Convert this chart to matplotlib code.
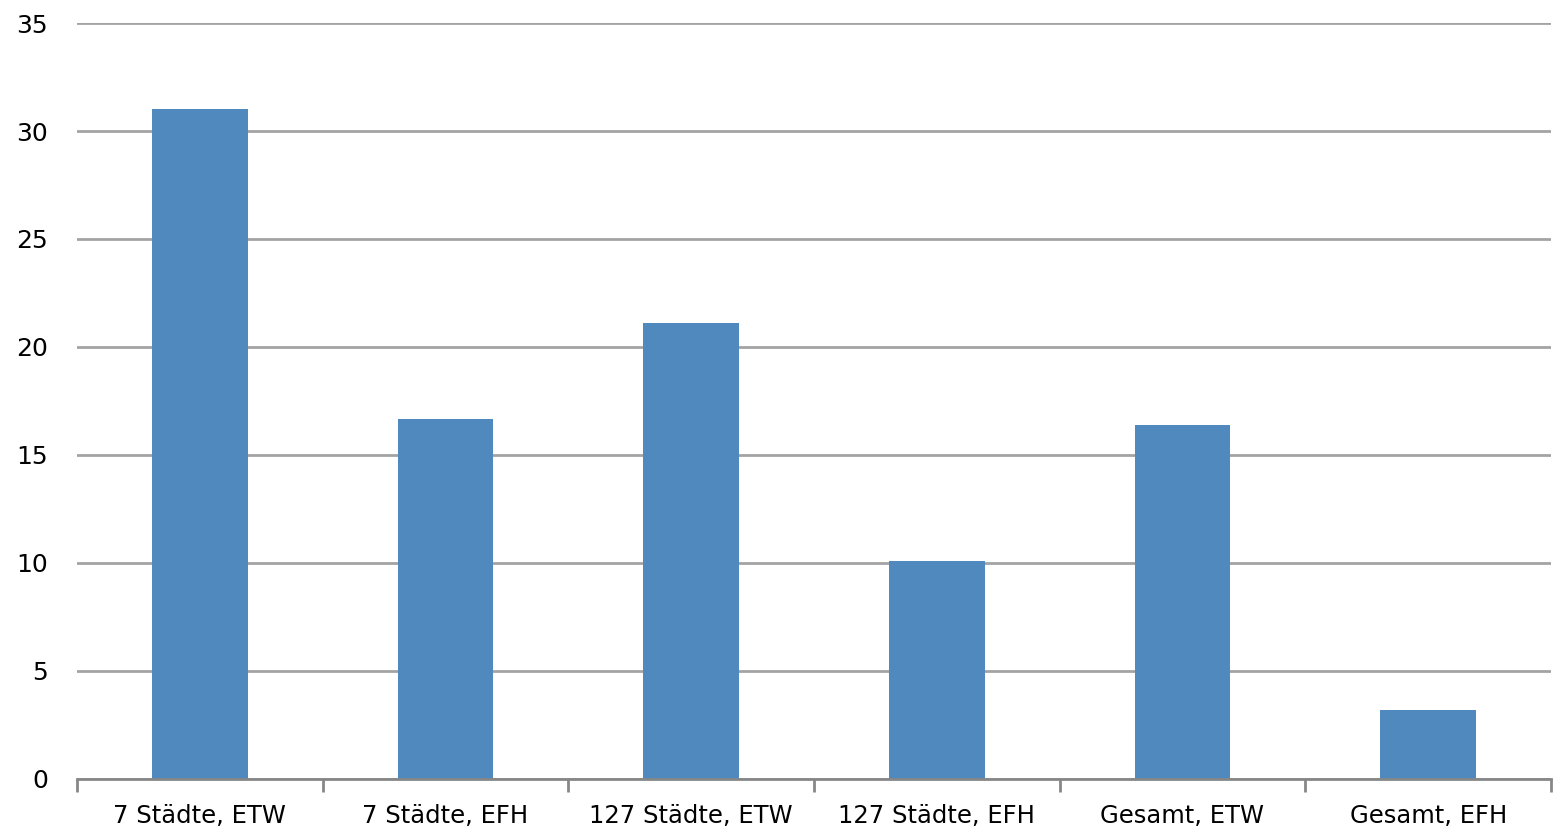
import matplotlib
matplotlib.use("Agg")
import matplotlib.pyplot as plt
import numpy as np

categories = ["7 Städte, ETW", "7 Städte, EFH", "127 Städte, ETW",
              "127 Städte, EFH", "Gesamt, ETW", "Gesamt, EFH"]
values = [31.0, 16.65, 21.1, 10.1, 16.4, 3.2]
yticks = [0, 5, 10, 15, 20, 25, 30, 35]

BAR_COLOR = "#4F89BD"
GRID_COLOR = "#A3A3A3"
AXIS_COLOR = "#878787"

plt.rcParams["font.family"] = ["DejaVu Sans"]

fig = plt.figure(figsize=(15.6, 8.32), dpi=100)
ax = fig.add_axes([77 / 1560, 1 - 779 / 832, (1551 - 77) / 1560, (779 - 23) / 832])

x = np.arange(len(categories))
ax.bar(x, values, width=0.39, color=BAR_COLOR, zorder=3)

ax.set_xlim(-0.5, len(categories) - 0.5)
ax.set_ylim(0, 35)
ax.set_yticks(yticks)
ax.yaxis.grid(True, color=GRID_COLOR, linewidth=2, zorder=0)

# category labels sit between the boundary ticks
ax.set_xticks(x)
ax.set_xticklabels(categories, fontsize=17.5)
ax.set_xticks(np.arange(len(categories) + 1) - 0.5, minor=True)
ax.tick_params(axis="x", which="major", length=0, pad=18)
ax.tick_params(axis="x", which="minor", length=9, width=2, color=AXIS_COLOR,
               direction="out")
ax.tick_params(axis="y", length=0, pad=21, labelsize=18)

for side in ("top", "right", "left"):
    ax.spines[side].set_visible(False)
ax.spines["bottom"].set_color(AXIS_COLOR)
ax.spines["bottom"].set_linewidth(2)
ax.spines["bottom"].set_zorder(4)

fig.savefig("out.png", dpi=100, facecolor="white")
